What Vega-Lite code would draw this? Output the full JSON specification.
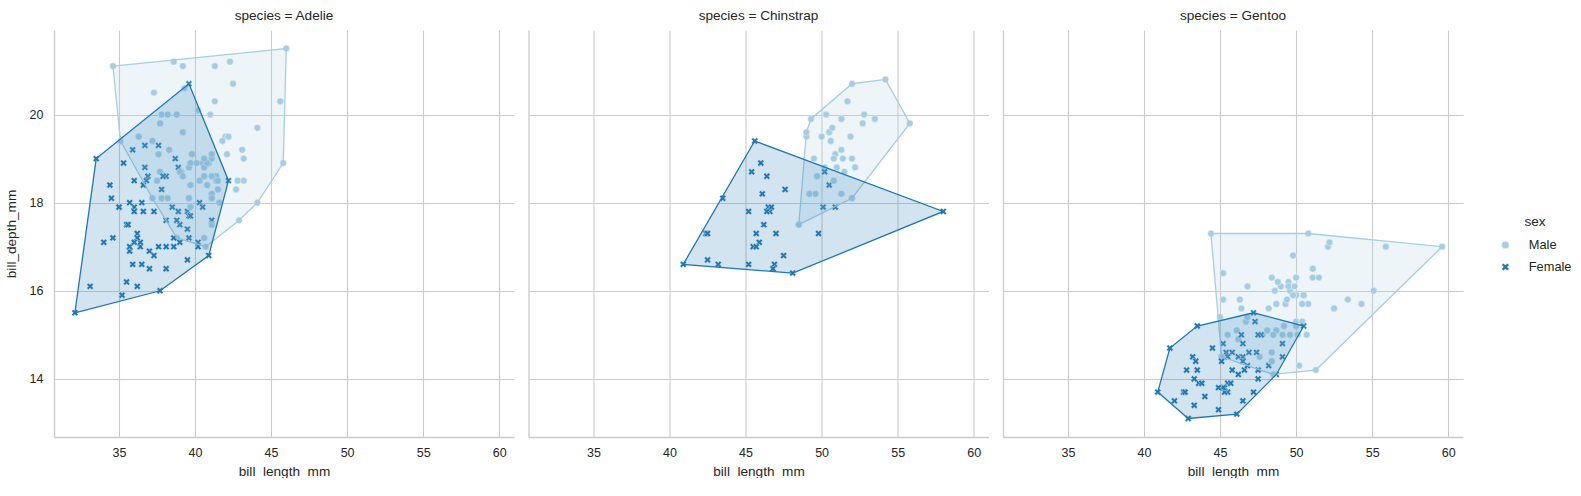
{
"$schema": "https://vega.github.io/schema/vega-lite/v6.json",
"padding": {"left": 4, "top": 9, "right": 0, "bottom": 0},
"background": "white",
"config": {
 "font": "Liberation Sans",
 "view": {"stroke": null},
 "axis": {"grid": true, "gridColor": "#cccccc", "gridWidth": 1.1, "domainColor": "#cccccc", "domainWidth": 1.4, "ticks": false, "labelFontSize": 12.5, "labelColor": "#262626", "titleFontSize": 13.6, "titleColor": "#262626", "titleFontWeight": "normal"},
 "axisX": {"labelPadding": 9, "titlePadding": 5.5},
 "axisY": {"labelPadding": 11, "titlePadding": 11},
 "title": {"fontSize": 13.6, "fontWeight": "normal", "color": "#262626", "offset": 7, "anchor": "middle"},
 "legend": {"orient": "none", "legendX": 1445, "legendY": 185, "titleFontSize": 13.6, "titleFontWeight": "normal", "titleColor": "#262626", "labelFontSize": 12.8, "labelColor": "#262626", "labelOffset": 17, "rowPadding": 8, "titlePadding": 10, "symbolSize": 60, "symbolStrokeColor": "white", "symbolStrokeWidth": 0.5, "titleAnchor": "middle"}
},
"datasets": {
"pts": [
{"species":"Adelie","sex":"Male","bill_length_mm":39.1,"bill_depth_mm":18.7},
{"species":"Adelie","sex":"Female","bill_length_mm":39.5,"bill_depth_mm":17.4},
{"species":"Adelie","sex":"Female","bill_length_mm":40.3,"bill_depth_mm":18.0},
{"species":"Adelie","sex":"Female","bill_length_mm":36.7,"bill_depth_mm":19.3},
{"species":"Adelie","sex":"Male","bill_length_mm":39.3,"bill_depth_mm":20.6},
{"species":"Adelie","sex":"Female","bill_length_mm":38.9,"bill_depth_mm":17.8},
{"species":"Adelie","sex":"Male","bill_length_mm":39.2,"bill_depth_mm":19.6},
{"species":"Adelie","sex":"Female","bill_length_mm":41.1,"bill_depth_mm":17.6},
{"species":"Adelie","sex":"Male","bill_length_mm":38.6,"bill_depth_mm":21.2},
{"species":"Adelie","sex":"Male","bill_length_mm":34.6,"bill_depth_mm":21.1},
{"species":"Adelie","sex":"Female","bill_length_mm":36.6,"bill_depth_mm":17.8},
{"species":"Adelie","sex":"Female","bill_length_mm":38.7,"bill_depth_mm":19.0},
{"species":"Adelie","sex":"Male","bill_length_mm":42.5,"bill_depth_mm":20.7},
{"species":"Adelie","sex":"Female","bill_length_mm":34.4,"bill_depth_mm":18.4},
{"species":"Adelie","sex":"Male","bill_length_mm":46.0,"bill_depth_mm":21.5},
{"species":"Adelie","sex":"Female","bill_length_mm":37.8,"bill_depth_mm":18.3},
{"species":"Adelie","sex":"Male","bill_length_mm":37.7,"bill_depth_mm":18.7},
{"species":"Adelie","sex":"Female","bill_length_mm":35.9,"bill_depth_mm":19.2},
{"species":"Adelie","sex":"Male","bill_length_mm":38.2,"bill_depth_mm":18.1},
{"species":"Adelie","sex":"Male","bill_length_mm":38.8,"bill_depth_mm":17.2},
{"species":"Adelie","sex":"Female","bill_length_mm":35.3,"bill_depth_mm":18.9},
{"species":"Adelie","sex":"Male","bill_length_mm":40.6,"bill_depth_mm":18.6},
{"species":"Adelie","sex":"Female","bill_length_mm":40.5,"bill_depth_mm":17.9},
{"species":"Adelie","sex":"Female","bill_length_mm":37.9,"bill_depth_mm":18.6},
{"species":"Adelie","sex":"Male","bill_length_mm":40.5,"bill_depth_mm":18.9},
{"species":"Adelie","sex":"Female","bill_length_mm":39.5,"bill_depth_mm":16.7},
{"species":"Adelie","sex":"Male","bill_length_mm":37.2,"bill_depth_mm":18.1},
{"species":"Adelie","sex":"Female","bill_length_mm":39.5,"bill_depth_mm":17.8},
{"species":"Adelie","sex":"Male","bill_length_mm":40.9,"bill_depth_mm":18.9},
{"species":"Adelie","sex":"Female","bill_length_mm":36.4,"bill_depth_mm":17.0},
{"species":"Adelie","sex":"Male","bill_length_mm":39.2,"bill_depth_mm":21.1},
{"species":"Adelie","sex":"Male","bill_length_mm":38.8,"bill_depth_mm":20.0},
{"species":"Adelie","sex":"Female","bill_length_mm":42.2,"bill_depth_mm":18.5},
{"species":"Adelie","sex":"Female","bill_length_mm":37.6,"bill_depth_mm":19.3},
{"species":"Adelie","sex":"Male","bill_length_mm":39.8,"bill_depth_mm":19.1},
{"species":"Adelie","sex":"Female","bill_length_mm":36.5,"bill_depth_mm":18.0},
{"species":"Adelie","sex":"Male","bill_length_mm":40.8,"bill_depth_mm":18.4},
{"species":"Adelie","sex":"Female","bill_length_mm":36.0,"bill_depth_mm":18.5},
{"species":"Adelie","sex":"Male","bill_length_mm":44.1,"bill_depth_mm":19.7},
{"species":"Adelie","sex":"Female","bill_length_mm":37.0,"bill_depth_mm":16.9},
{"species":"Adelie","sex":"Male","bill_length_mm":39.6,"bill_depth_mm":18.8},
{"species":"Adelie","sex":"Male","bill_length_mm":41.1,"bill_depth_mm":19.0},
{"species":"Adelie","sex":"Female","bill_length_mm":36.0,"bill_depth_mm":17.9},
{"species":"Adelie","sex":"Male","bill_length_mm":42.3,"bill_depth_mm":21.2},
{"species":"Adelie","sex":"Female","bill_length_mm":39.6,"bill_depth_mm":17.7},
{"species":"Adelie","sex":"Male","bill_length_mm":40.1,"bill_depth_mm":18.9},
{"species":"Adelie","sex":"Female","bill_length_mm":35.0,"bill_depth_mm":17.9},
{"species":"Adelie","sex":"Male","bill_length_mm":42.0,"bill_depth_mm":19.5},
{"species":"Adelie","sex":"Female","bill_length_mm":34.5,"bill_depth_mm":18.1},
{"species":"Adelie","sex":"Male","bill_length_mm":41.4,"bill_depth_mm":18.6},
{"species":"Adelie","sex":"Female","bill_length_mm":39.0,"bill_depth_mm":17.5},
{"species":"Adelie","sex":"Male","bill_length_mm":40.6,"bill_depth_mm":18.8},
{"species":"Adelie","sex":"Female","bill_length_mm":36.5,"bill_depth_mm":16.6},
{"species":"Adelie","sex":"Male","bill_length_mm":37.6,"bill_depth_mm":19.1},
{"species":"Adelie","sex":"Female","bill_length_mm":35.7,"bill_depth_mm":16.9},
{"species":"Adelie","sex":"Male","bill_length_mm":41.3,"bill_depth_mm":21.1},
{"species":"Adelie","sex":"Female","bill_length_mm":37.6,"bill_depth_mm":17.0},
{"species":"Adelie","sex":"Male","bill_length_mm":41.1,"bill_depth_mm":18.2},
{"species":"Adelie","sex":"Female","bill_length_mm":36.4,"bill_depth_mm":17.1},
{"species":"Adelie","sex":"Male","bill_length_mm":41.6,"bill_depth_mm":18.0},
{"species":"Adelie","sex":"Female","bill_length_mm":35.5,"bill_depth_mm":16.2},
{"species":"Adelie","sex":"Male","bill_length_mm":41.1,"bill_depth_mm":19.1},
{"species":"Adelie","sex":"Female","bill_length_mm":35.9,"bill_depth_mm":16.6},
{"species":"Adelie","sex":"Male","bill_length_mm":41.8,"bill_depth_mm":19.4},
{"species":"Adelie","sex":"Female","bill_length_mm":33.5,"bill_depth_mm":19.0},
{"species":"Adelie","sex":"Male","bill_length_mm":39.7,"bill_depth_mm":18.4},
{"species":"Adelie","sex":"Female","bill_length_mm":39.6,"bill_depth_mm":17.2},
{"species":"Adelie","sex":"Male","bill_length_mm":45.8,"bill_depth_mm":18.9},
{"species":"Adelie","sex":"Female","bill_length_mm":35.5,"bill_depth_mm":17.5},
{"species":"Adelie","sex":"Male","bill_length_mm":42.8,"bill_depth_mm":18.5},
{"species":"Adelie","sex":"Female","bill_length_mm":40.9,"bill_depth_mm":16.8},
{"species":"Adelie","sex":"Male","bill_length_mm":37.2,"bill_depth_mm":19.4},
{"species":"Adelie","sex":"Female","bill_length_mm":36.2,"bill_depth_mm":16.1},
{"species":"Adelie","sex":"Male","bill_length_mm":42.1,"bill_depth_mm":19.1},
{"species":"Adelie","sex":"Female","bill_length_mm":34.6,"bill_depth_mm":17.2},
{"species":"Adelie","sex":"Male","bill_length_mm":42.9,"bill_depth_mm":17.6},
{"species":"Adelie","sex":"Female","bill_length_mm":36.7,"bill_depth_mm":18.8},
{"species":"Adelie","sex":"Male","bill_length_mm":35.1,"bill_depth_mm":19.4},
{"species":"Adelie","sex":"Female","bill_length_mm":37.3,"bill_depth_mm":17.8},
{"species":"Adelie","sex":"Male","bill_length_mm":41.3,"bill_depth_mm":20.3},
{"species":"Adelie","sex":"Male","bill_length_mm":36.3,"bill_depth_mm":19.5},
{"species":"Adelie","sex":"Female","bill_length_mm":36.9,"bill_depth_mm":18.6},
{"species":"Adelie","sex":"Male","bill_length_mm":38.3,"bill_depth_mm":19.2},
{"species":"Adelie","sex":"Female","bill_length_mm":38.9,"bill_depth_mm":18.8},
{"species":"Adelie","sex":"Female","bill_length_mm":35.7,"bill_depth_mm":18.0},
{"species":"Adelie","sex":"Male","bill_length_mm":41.1,"bill_depth_mm":18.1},
{"species":"Adelie","sex":"Female","bill_length_mm":34.0,"bill_depth_mm":17.1},
{"species":"Adelie","sex":"Male","bill_length_mm":39.6,"bill_depth_mm":18.1},
{"species":"Adelie","sex":"Female","bill_length_mm":36.2,"bill_depth_mm":17.3},
{"species":"Adelie","sex":"Male","bill_length_mm":40.8,"bill_depth_mm":18.9},
{"species":"Adelie","sex":"Female","bill_length_mm":38.1,"bill_depth_mm":18.6},
{"species":"Adelie","sex":"Male","bill_length_mm":40.3,"bill_depth_mm":18.5},
{"species":"Adelie","sex":"Female","bill_length_mm":33.1,"bill_depth_mm":16.1},
{"species":"Adelie","sex":"Male","bill_length_mm":43.2,"bill_depth_mm":18.5},
{"species":"Adelie","sex":"Female","bill_length_mm":35.0,"bill_depth_mm":17.9},
{"species":"Adelie","sex":"Male","bill_length_mm":41.0,"bill_depth_mm":20.0},
{"species":"Adelie","sex":"Female","bill_length_mm":37.7,"bill_depth_mm":16.0},
{"species":"Adelie","sex":"Male","bill_length_mm":37.8,"bill_depth_mm":20.0},
{"species":"Adelie","sex":"Female","bill_length_mm":37.9,"bill_depth_mm":18.6},
{"species":"Adelie","sex":"Male","bill_length_mm":39.7,"bill_depth_mm":18.9},
{"species":"Adelie","sex":"Female","bill_length_mm":38.6,"bill_depth_mm":17.2},
{"species":"Adelie","sex":"Male","bill_length_mm":38.2,"bill_depth_mm":20.0},
{"species":"Adelie","sex":"Female","bill_length_mm":38.1,"bill_depth_mm":17.0},
{"species":"Adelie","sex":"Male","bill_length_mm":43.2,"bill_depth_mm":19.0},
{"species":"Adelie","sex":"Female","bill_length_mm":38.1,"bill_depth_mm":16.5},
{"species":"Adelie","sex":"Male","bill_length_mm":45.6,"bill_depth_mm":20.3},
{"species":"Adelie","sex":"Female","bill_length_mm":39.7,"bill_depth_mm":17.7},
{"species":"Adelie","sex":"Male","bill_length_mm":42.2,"bill_depth_mm":19.5},
{"species":"Adelie","sex":"Female","bill_length_mm":39.6,"bill_depth_mm":20.7},
{"species":"Adelie","sex":"Male","bill_length_mm":42.7,"bill_depth_mm":18.3},
{"species":"Adelie","sex":"Female","bill_length_mm":38.6,"bill_depth_mm":17.0},
{"species":"Adelie","sex":"Male","bill_length_mm":37.3,"bill_depth_mm":20.5},
{"species":"Adelie","sex":"Female","bill_length_mm":35.7,"bill_depth_mm":17.0},
{"species":"Adelie","sex":"Male","bill_length_mm":41.1,"bill_depth_mm":18.6},
{"species":"Adelie","sex":"Female","bill_length_mm":36.2,"bill_depth_mm":17.2},
{"species":"Adelie","sex":"Male","bill_length_mm":37.7,"bill_depth_mm":19.8},
{"species":"Adelie","sex":"Female","bill_length_mm":40.2,"bill_depth_mm":17.0},
{"species":"Adelie","sex":"Male","bill_length_mm":41.4,"bill_depth_mm":18.5},
{"species":"Adelie","sex":"Female","bill_length_mm":35.2,"bill_depth_mm":15.9},
{"species":"Adelie","sex":"Male","bill_length_mm":40.6,"bill_depth_mm":19.0},
{"species":"Adelie","sex":"Female","bill_length_mm":38.8,"bill_depth_mm":17.6},
{"species":"Adelie","sex":"Male","bill_length_mm":41.5,"bill_depth_mm":18.3},
{"species":"Adelie","sex":"Female","bill_length_mm":39.0,"bill_depth_mm":17.1},
{"species":"Adelie","sex":"Male","bill_length_mm":44.1,"bill_depth_mm":18.0},
{"species":"Adelie","sex":"Female","bill_length_mm":38.5,"bill_depth_mm":17.9},
{"species":"Adelie","sex":"Male","bill_length_mm":43.1,"bill_depth_mm":19.2},
{"species":"Adelie","sex":"Female","bill_length_mm":36.8,"bill_depth_mm":18.5},
{"species":"Adelie","sex":"Male","bill_length_mm":37.5,"bill_depth_mm":18.5},
{"species":"Adelie","sex":"Female","bill_length_mm":38.1,"bill_depth_mm":17.6},
{"species":"Adelie","sex":"Male","bill_length_mm":41.1,"bill_depth_mm":17.5},
{"species":"Adelie","sex":"Female","bill_length_mm":35.6,"bill_depth_mm":17.5},
{"species":"Adelie","sex":"Male","bill_length_mm":40.2,"bill_depth_mm":20.1},
{"species":"Adelie","sex":"Female","bill_length_mm":37.0,"bill_depth_mm":16.5},
{"species":"Adelie","sex":"Male","bill_length_mm":39.7,"bill_depth_mm":17.9},
{"species":"Adelie","sex":"Female","bill_length_mm":40.2,"bill_depth_mm":17.1},
{"species":"Adelie","sex":"Male","bill_length_mm":40.6,"bill_depth_mm":17.2},
{"species":"Adelie","sex":"Female","bill_length_mm":32.1,"bill_depth_mm":15.5},
{"species":"Adelie","sex":"Male","bill_length_mm":40.7,"bill_depth_mm":17.0},
{"species":"Adelie","sex":"Female","bill_length_mm":37.3,"bill_depth_mm":16.8},
{"species":"Adelie","sex":"Male","bill_length_mm":39.0,"bill_depth_mm":18.7},
{"species":"Adelie","sex":"Male","bill_length_mm":39.2,"bill_depth_mm":18.6},
{"species":"Adelie","sex":"Female","bill_length_mm":36.6,"bill_depth_mm":18.4},
{"species":"Adelie","sex":"Female","bill_length_mm":36.0,"bill_depth_mm":17.8},
{"species":"Adelie","sex":"Male","bill_length_mm":37.8,"bill_depth_mm":18.1},
{"species":"Adelie","sex":"Female","bill_length_mm":36.0,"bill_depth_mm":17.1},
{"species":"Adelie","sex":"Male","bill_length_mm":41.5,"bill_depth_mm":18.5},
{"species":"Chinstrap","sex":"Female","bill_length_mm":46.5,"bill_depth_mm":17.9},
{"species":"Chinstrap","sex":"Male","bill_length_mm":50.0,"bill_depth_mm":19.5},
{"species":"Chinstrap","sex":"Male","bill_length_mm":51.3,"bill_depth_mm":19.2},
{"species":"Chinstrap","sex":"Female","bill_length_mm":45.4,"bill_depth_mm":18.7},
{"species":"Chinstrap","sex":"Male","bill_length_mm":52.7,"bill_depth_mm":19.8},
{"species":"Chinstrap","sex":"Female","bill_length_mm":45.2,"bill_depth_mm":17.8},
{"species":"Chinstrap","sex":"Female","bill_length_mm":46.1,"bill_depth_mm":18.2},
{"species":"Chinstrap","sex":"Male","bill_length_mm":51.3,"bill_depth_mm":18.2},
{"species":"Chinstrap","sex":"Female","bill_length_mm":46.0,"bill_depth_mm":18.9},
{"species":"Chinstrap","sex":"Male","bill_length_mm":51.3,"bill_depth_mm":19.9},
{"species":"Chinstrap","sex":"Female","bill_length_mm":46.6,"bill_depth_mm":17.8},
{"species":"Chinstrap","sex":"Male","bill_length_mm":51.7,"bill_depth_mm":20.3},
{"species":"Chinstrap","sex":"Female","bill_length_mm":47.0,"bill_depth_mm":17.3},
{"species":"Chinstrap","sex":"Male","bill_length_mm":52.0,"bill_depth_mm":18.1},
{"species":"Chinstrap","sex":"Female","bill_length_mm":45.9,"bill_depth_mm":17.1},
{"species":"Chinstrap","sex":"Male","bill_length_mm":50.5,"bill_depth_mm":19.6},
{"species":"Chinstrap","sex":"Male","bill_length_mm":50.3,"bill_depth_mm":20.0},
{"species":"Chinstrap","sex":"Female","bill_length_mm":58.0,"bill_depth_mm":17.8},
{"species":"Chinstrap","sex":"Female","bill_length_mm":46.4,"bill_depth_mm":18.6},
{"species":"Chinstrap","sex":"Male","bill_length_mm":49.2,"bill_depth_mm":18.2},
{"species":"Chinstrap","sex":"Female","bill_length_mm":42.4,"bill_depth_mm":17.3},
{"species":"Chinstrap","sex":"Male","bill_length_mm":48.5,"bill_depth_mm":17.5},
{"species":"Chinstrap","sex":"Female","bill_length_mm":43.2,"bill_depth_mm":16.6},
{"species":"Chinstrap","sex":"Male","bill_length_mm":50.6,"bill_depth_mm":19.4},
{"species":"Chinstrap","sex":"Female","bill_length_mm":46.7,"bill_depth_mm":17.9},
{"species":"Chinstrap","sex":"Male","bill_length_mm":52.0,"bill_depth_mm":19.0},
{"species":"Chinstrap","sex":"Female","bill_length_mm":50.5,"bill_depth_mm":18.4},
{"species":"Chinstrap","sex":"Male","bill_length_mm":49.5,"bill_depth_mm":19.0},
{"species":"Chinstrap","sex":"Female","bill_length_mm":46.4,"bill_depth_mm":17.8},
{"species":"Chinstrap","sex":"Male","bill_length_mm":52.8,"bill_depth_mm":20.0},
{"species":"Chinstrap","sex":"Female","bill_length_mm":40.9,"bill_depth_mm":16.6},
{"species":"Chinstrap","sex":"Male","bill_length_mm":54.2,"bill_depth_mm":20.8},
{"species":"Chinstrap","sex":"Female","bill_length_mm":42.5,"bill_depth_mm":16.7},
{"species":"Chinstrap","sex":"Male","bill_length_mm":51.0,"bill_depth_mm":18.8},
{"species":"Chinstrap","sex":"Male","bill_length_mm":49.7,"bill_depth_mm":18.6},
{"species":"Chinstrap","sex":"Female","bill_length_mm":47.5,"bill_depth_mm":16.8},
{"species":"Chinstrap","sex":"Female","bill_length_mm":47.6,"bill_depth_mm":18.3},
{"species":"Chinstrap","sex":"Male","bill_length_mm":52.0,"bill_depth_mm":20.7},
{"species":"Chinstrap","sex":"Female","bill_length_mm":46.9,"bill_depth_mm":16.6},
{"species":"Chinstrap","sex":"Male","bill_length_mm":53.5,"bill_depth_mm":19.9},
{"species":"Chinstrap","sex":"Male","bill_length_mm":49.0,"bill_depth_mm":19.5},
{"species":"Chinstrap","sex":"Female","bill_length_mm":46.2,"bill_depth_mm":17.5},
{"species":"Chinstrap","sex":"Male","bill_length_mm":50.9,"bill_depth_mm":19.1},
{"species":"Chinstrap","sex":"Female","bill_length_mm":45.5,"bill_depth_mm":17.0},
{"species":"Chinstrap","sex":"Female","bill_length_mm":50.9,"bill_depth_mm":17.9},
{"species":"Chinstrap","sex":"Male","bill_length_mm":50.8,"bill_depth_mm":18.5},
{"species":"Chinstrap","sex":"Female","bill_length_mm":50.1,"bill_depth_mm":17.9},
{"species":"Chinstrap","sex":"Male","bill_length_mm":49.0,"bill_depth_mm":19.6},
{"species":"Chinstrap","sex":"Male","bill_length_mm":51.5,"bill_depth_mm":18.7},
{"species":"Chinstrap","sex":"Female","bill_length_mm":49.8,"bill_depth_mm":17.3},
{"species":"Chinstrap","sex":"Female","bill_length_mm":48.1,"bill_depth_mm":16.4},
{"species":"Chinstrap","sex":"Male","bill_length_mm":51.4,"bill_depth_mm":19.0},
{"species":"Chinstrap","sex":"Female","bill_length_mm":45.7,"bill_depth_mm":17.3},
{"species":"Chinstrap","sex":"Male","bill_length_mm":50.7,"bill_depth_mm":19.7},
{"species":"Chinstrap","sex":"Female","bill_length_mm":42.5,"bill_depth_mm":17.3},
{"species":"Chinstrap","sex":"Male","bill_length_mm":52.2,"bill_depth_mm":18.8},
{"species":"Chinstrap","sex":"Female","bill_length_mm":45.2,"bill_depth_mm":16.6},
{"species":"Chinstrap","sex":"Male","bill_length_mm":49.3,"bill_depth_mm":19.9},
{"species":"Chinstrap","sex":"Male","bill_length_mm":50.2,"bill_depth_mm":18.8},
{"species":"Chinstrap","sex":"Female","bill_length_mm":45.6,"bill_depth_mm":19.4},
{"species":"Chinstrap","sex":"Male","bill_length_mm":51.9,"bill_depth_mm":19.5},
{"species":"Chinstrap","sex":"Female","bill_length_mm":46.8,"bill_depth_mm":16.5},
{"species":"Chinstrap","sex":"Female","bill_length_mm":45.7,"bill_depth_mm":17.0},
{"species":"Chinstrap","sex":"Male","bill_length_mm":55.8,"bill_depth_mm":19.8},
{"species":"Chinstrap","sex":"Female","bill_length_mm":43.5,"bill_depth_mm":18.1},
{"species":"Chinstrap","sex":"Male","bill_length_mm":49.6,"bill_depth_mm":18.2},
{"species":"Chinstrap","sex":"Male","bill_length_mm":50.8,"bill_depth_mm":19.0},
{"species":"Chinstrap","sex":"Female","bill_length_mm":50.2,"bill_depth_mm":18.7},
{"species":"Gentoo","sex":"Female","bill_length_mm":46.1,"bill_depth_mm":13.2},
{"species":"Gentoo","sex":"Male","bill_length_mm":50.0,"bill_depth_mm":16.3},
{"species":"Gentoo","sex":"Female","bill_length_mm":48.7,"bill_depth_mm":14.1},
{"species":"Gentoo","sex":"Male","bill_length_mm":50.0,"bill_depth_mm":15.2},
{"species":"Gentoo","sex":"Male","bill_length_mm":47.6,"bill_depth_mm":14.5},
{"species":"Gentoo","sex":"Female","bill_length_mm":46.5,"bill_depth_mm":13.5},
{"species":"Gentoo","sex":"Female","bill_length_mm":45.4,"bill_depth_mm":14.6},
{"species":"Gentoo","sex":"Male","bill_length_mm":46.7,"bill_depth_mm":15.3},
{"species":"Gentoo","sex":"Female","bill_length_mm":43.3,"bill_depth_mm":13.4},
{"species":"Gentoo","sex":"Male","bill_length_mm":46.8,"bill_depth_mm":15.4},
{"species":"Gentoo","sex":"Female","bill_length_mm":40.9,"bill_depth_mm":13.7},
{"species":"Gentoo","sex":"Male","bill_length_mm":49.0,"bill_depth_mm":16.1},
{"species":"Gentoo","sex":"Female","bill_length_mm":45.5,"bill_depth_mm":13.7},
{"species":"Gentoo","sex":"Male","bill_length_mm":48.4,"bill_depth_mm":14.6},
{"species":"Gentoo","sex":"Female","bill_length_mm":45.8,"bill_depth_mm":14.6},
{"species":"Gentoo","sex":"Male","bill_length_mm":49.3,"bill_depth_mm":15.7},
{"species":"Gentoo","sex":"Female","bill_length_mm":42.0,"bill_depth_mm":13.5},
{"species":"Gentoo","sex":"Male","bill_length_mm":49.2,"bill_depth_mm":15.2},
{"species":"Gentoo","sex":"Female","bill_length_mm":46.2,"bill_depth_mm":14.5},
{"species":"Gentoo","sex":"Male","bill_length_mm":48.7,"bill_depth_mm":15.1},
{"species":"Gentoo","sex":"Male","bill_length_mm":50.2,"bill_depth_mm":14.3},
{"species":"Gentoo","sex":"Female","bill_length_mm":45.1,"bill_depth_mm":14.5},
{"species":"Gentoo","sex":"Female","bill_length_mm":46.5,"bill_depth_mm":14.5},
{"species":"Gentoo","sex":"Male","bill_length_mm":46.3,"bill_depth_mm":15.8},
{"species":"Gentoo","sex":"Female","bill_length_mm":42.9,"bill_depth_mm":13.1},
{"species":"Gentoo","sex":"Male","bill_length_mm":46.1,"bill_depth_mm":15.1},
{"species":"Gentoo","sex":"Male","bill_length_mm":47.8,"bill_depth_mm":15.0},
{"species":"Gentoo","sex":"Female","bill_length_mm":48.2,"bill_depth_mm":14.3},
{"species":"Gentoo","sex":"Male","bill_length_mm":50.0,"bill_depth_mm":15.3},
{"species":"Gentoo","sex":"Female","bill_length_mm":47.3,"bill_depth_mm":15.3},
{"species":"Gentoo","sex":"Female","bill_length_mm":42.8,"bill_depth_mm":14.2},
{"species":"Gentoo","sex":"Male","bill_length_mm":45.1,"bill_depth_mm":14.5},
{"species":"Gentoo","sex":"Male","bill_length_mm":59.6,"bill_depth_mm":17.0},
{"species":"Gentoo","sex":"Female","bill_length_mm":49.1,"bill_depth_mm":14.8},
{"species":"Gentoo","sex":"Male","bill_length_mm":48.4,"bill_depth_mm":16.3},
{"species":"Gentoo","sex":"Female","bill_length_mm":42.6,"bill_depth_mm":13.7},
{"species":"Gentoo","sex":"Male","bill_length_mm":44.4,"bill_depth_mm":17.3},
{"species":"Gentoo","sex":"Female","bill_length_mm":44.0,"bill_depth_mm":13.6},
{"species":"Gentoo","sex":"Male","bill_length_mm":48.7,"bill_depth_mm":15.7},
{"species":"Gentoo","sex":"Female","bill_length_mm":42.7,"bill_depth_mm":13.7},
{"species":"Gentoo","sex":"Male","bill_length_mm":49.6,"bill_depth_mm":16.0},
{"species":"Gentoo","sex":"Female","bill_length_mm":45.3,"bill_depth_mm":13.7},
{"species":"Gentoo","sex":"Male","bill_length_mm":49.6,"bill_depth_mm":15.0},
{"species":"Gentoo","sex":"Male","bill_length_mm":50.5,"bill_depth_mm":15.9},
{"species":"Gentoo","sex":"Female","bill_length_mm":43.6,"bill_depth_mm":13.9},
{"species":"Gentoo","sex":"Female","bill_length_mm":45.5,"bill_depth_mm":13.9},
{"species":"Gentoo","sex":"Male","bill_length_mm":50.5,"bill_depth_mm":15.9},
{"species":"Gentoo","sex":"Female","bill_length_mm":44.9,"bill_depth_mm":13.3},
{"species":"Gentoo","sex":"Male","bill_length_mm":45.2,"bill_depth_mm":15.8},
{"species":"Gentoo","sex":"Female","bill_length_mm":46.6,"bill_depth_mm":14.2},
{"species":"Gentoo","sex":"Male","bill_length_mm":48.5,"bill_depth_mm":14.1},
{"species":"Gentoo","sex":"Female","bill_length_mm":45.1,"bill_depth_mm":14.4},
{"species":"Gentoo","sex":"Male","bill_length_mm":50.1,"bill_depth_mm":15.0},
{"species":"Gentoo","sex":"Female","bill_length_mm":46.5,"bill_depth_mm":14.4},
{"species":"Gentoo","sex":"Male","bill_length_mm":45.0,"bill_depth_mm":15.4},
{"species":"Gentoo","sex":"Female","bill_length_mm":43.8,"bill_depth_mm":13.9},
{"species":"Gentoo","sex":"Male","bill_length_mm":45.5,"bill_depth_mm":15.0},
{"species":"Gentoo","sex":"Female","bill_length_mm":43.2,"bill_depth_mm":14.5},
{"species":"Gentoo","sex":"Male","bill_length_mm":50.4,"bill_depth_mm":15.3},
{"species":"Gentoo","sex":"Female","bill_length_mm":45.3,"bill_depth_mm":13.8},
{"species":"Gentoo","sex":"Male","bill_length_mm":46.2,"bill_depth_mm":14.9},
{"species":"Gentoo","sex":"Female","bill_length_mm":45.7,"bill_depth_mm":13.9},
{"species":"Gentoo","sex":"Male","bill_length_mm":54.3,"bill_depth_mm":15.7},
{"species":"Gentoo","sex":"Female","bill_length_mm":45.8,"bill_depth_mm":14.2},
{"species":"Gentoo","sex":"Male","bill_length_mm":49.8,"bill_depth_mm":16.8},
{"species":"Gentoo","sex":"Male","bill_length_mm":49.5,"bill_depth_mm":16.2},
{"species":"Gentoo","sex":"Female","bill_length_mm":43.5,"bill_depth_mm":14.2},
{"species":"Gentoo","sex":"Male","bill_length_mm":50.7,"bill_depth_mm":15.0},
{"species":"Gentoo","sex":"Female","bill_length_mm":47.7,"bill_depth_mm":15.0},
{"species":"Gentoo","sex":"Male","bill_length_mm":46.4,"bill_depth_mm":15.6},
{"species":"Gentoo","sex":"Male","bill_length_mm":48.2,"bill_depth_mm":15.6},
{"species":"Gentoo","sex":"Female","bill_length_mm":46.5,"bill_depth_mm":14.8},
{"species":"Gentoo","sex":"Female","bill_length_mm":46.4,"bill_depth_mm":15.0},
{"species":"Gentoo","sex":"Male","bill_length_mm":48.6,"bill_depth_mm":16.0},
{"species":"Gentoo","sex":"Female","bill_length_mm":47.5,"bill_depth_mm":14.2},
{"species":"Gentoo","sex":"Male","bill_length_mm":51.1,"bill_depth_mm":16.3},
{"species":"Gentoo","sex":"Female","bill_length_mm":45.2,"bill_depth_mm":13.8},
{"species":"Gentoo","sex":"Male","bill_length_mm":45.2,"bill_depth_mm":16.4},
{"species":"Gentoo","sex":"Female","bill_length_mm":49.1,"bill_depth_mm":14.5},
{"species":"Gentoo","sex":"Male","bill_length_mm":52.5,"bill_depth_mm":15.6},
{"species":"Gentoo","sex":"Female","bill_length_mm":47.4,"bill_depth_mm":14.6},
{"species":"Gentoo","sex":"Male","bill_length_mm":50.0,"bill_depth_mm":15.9},
{"species":"Gentoo","sex":"Female","bill_length_mm":44.9,"bill_depth_mm":13.8},
{"species":"Gentoo","sex":"Male","bill_length_mm":50.8,"bill_depth_mm":17.3},
{"species":"Gentoo","sex":"Female","bill_length_mm":43.4,"bill_depth_mm":14.4},
{"species":"Gentoo","sex":"Male","bill_length_mm":51.3,"bill_depth_mm":14.2},
{"species":"Gentoo","sex":"Female","bill_length_mm":47.5,"bill_depth_mm":14.0},
{"species":"Gentoo","sex":"Male","bill_length_mm":52.1,"bill_depth_mm":17.0},
{"species":"Gentoo","sex":"Female","bill_length_mm":47.5,"bill_depth_mm":15.0},
{"species":"Gentoo","sex":"Male","bill_length_mm":52.2,"bill_depth_mm":17.1},
{"species":"Gentoo","sex":"Female","bill_length_mm":45.5,"bill_depth_mm":14.5},
{"species":"Gentoo","sex":"Male","bill_length_mm":49.5,"bill_depth_mm":16.1},
{"species":"Gentoo","sex":"Female","bill_length_mm":44.5,"bill_depth_mm":14.7},
{"species":"Gentoo","sex":"Male","bill_length_mm":50.8,"bill_depth_mm":15.7},
{"species":"Gentoo","sex":"Male","bill_length_mm":49.4,"bill_depth_mm":15.8},
{"species":"Gentoo","sex":"Female","bill_length_mm":46.9,"bill_depth_mm":14.6},
{"species":"Gentoo","sex":"Male","bill_length_mm":48.4,"bill_depth_mm":14.4},
{"species":"Gentoo","sex":"Male","bill_length_mm":51.1,"bill_depth_mm":16.5},
{"species":"Gentoo","sex":"Male","bill_length_mm":48.5,"bill_depth_mm":15.0},
{"species":"Gentoo","sex":"Male","bill_length_mm":55.9,"bill_depth_mm":17.0},
{"species":"Gentoo","sex":"Female","bill_length_mm":47.2,"bill_depth_mm":15.5},
{"species":"Gentoo","sex":"Male","bill_length_mm":49.1,"bill_depth_mm":15.0},
{"species":"Gentoo","sex":"Male","bill_length_mm":46.8,"bill_depth_mm":16.1},
{"species":"Gentoo","sex":"Female","bill_length_mm":41.7,"bill_depth_mm":14.7},
{"species":"Gentoo","sex":"Male","bill_length_mm":53.4,"bill_depth_mm":15.8},
{"species":"Gentoo","sex":"Female","bill_length_mm":43.3,"bill_depth_mm":14.0},
{"species":"Gentoo","sex":"Male","bill_length_mm":48.1,"bill_depth_mm":15.1},
{"species":"Gentoo","sex":"Female","bill_length_mm":50.5,"bill_depth_mm":15.2},
{"species":"Gentoo","sex":"Male","bill_length_mm":49.8,"bill_depth_mm":15.9},
{"species":"Gentoo","sex":"Female","bill_length_mm":43.5,"bill_depth_mm":15.2},
{"species":"Gentoo","sex":"Male","bill_length_mm":51.5,"bill_depth_mm":16.3},
{"species":"Gentoo","sex":"Female","bill_length_mm":46.2,"bill_depth_mm":14.1},
{"species":"Gentoo","sex":"Male","bill_length_mm":55.1,"bill_depth_mm":16.0},
{"species":"Gentoo","sex":"Male","bill_length_mm":48.8,"bill_depth_mm":16.2},
{"species":"Gentoo","sex":"Female","bill_length_mm":47.2,"bill_depth_mm":13.7},
{"species":"Gentoo","sex":"Female","bill_length_mm":46.8,"bill_depth_mm":14.3},
{"species":"Gentoo","sex":"Male","bill_length_mm":50.4,"bill_depth_mm":15.7},
{"species":"Gentoo","sex":"Female","bill_length_mm":45.2,"bill_depth_mm":14.8},
{"species":"Gentoo","sex":"Male","bill_length_mm":49.9,"bill_depth_mm":16.1}
],
"hull": [
{"species":"Adelie","sex":"Male","i":0,"bill_length_mm":34.6,"bill_depth_mm":21.1},
{"species":"Adelie","sex":"Male","i":1,"bill_length_mm":46.0,"bill_depth_mm":21.5},
{"species":"Adelie","sex":"Male","i":2,"bill_length_mm":45.8,"bill_depth_mm":18.9},
{"species":"Adelie","sex":"Male","i":3,"bill_length_mm":44.1,"bill_depth_mm":18.0},
{"species":"Adelie","sex":"Male","i":4,"bill_length_mm":42.9,"bill_depth_mm":17.6},
{"species":"Adelie","sex":"Male","i":5,"bill_length_mm":40.7,"bill_depth_mm":17.0},
{"species":"Adelie","sex":"Male","i":6,"bill_length_mm":38.8,"bill_depth_mm":17.2},
{"species":"Adelie","sex":"Male","i":7,"bill_length_mm":37.2,"bill_depth_mm":18.1},
{"species":"Adelie","sex":"Male","i":8,"bill_length_mm":35.1,"bill_depth_mm":19.4},
{"species":"Adelie","sex":"Female","i":0,"bill_length_mm":32.1,"bill_depth_mm":15.5},
{"species":"Adelie","sex":"Female","i":1,"bill_length_mm":33.5,"bill_depth_mm":19.0},
{"species":"Adelie","sex":"Female","i":2,"bill_length_mm":39.6,"bill_depth_mm":20.7},
{"species":"Adelie","sex":"Female","i":3,"bill_length_mm":42.2,"bill_depth_mm":18.5},
{"species":"Adelie","sex":"Female","i":4,"bill_length_mm":40.9,"bill_depth_mm":16.8},
{"species":"Adelie","sex":"Female","i":5,"bill_length_mm":37.7,"bill_depth_mm":16.0},
{"species":"Chinstrap","sex":"Male","i":0,"bill_length_mm":48.5,"bill_depth_mm":17.5},
{"species":"Chinstrap","sex":"Male","i":1,"bill_length_mm":49.0,"bill_depth_mm":19.6},
{"species":"Chinstrap","sex":"Male","i":2,"bill_length_mm":49.3,"bill_depth_mm":19.9},
{"species":"Chinstrap","sex":"Male","i":3,"bill_length_mm":52.0,"bill_depth_mm":20.7},
{"species":"Chinstrap","sex":"Male","i":4,"bill_length_mm":54.2,"bill_depth_mm":20.8},
{"species":"Chinstrap","sex":"Male","i":5,"bill_length_mm":55.8,"bill_depth_mm":19.8},
{"species":"Chinstrap","sex":"Male","i":6,"bill_length_mm":52.0,"bill_depth_mm":18.1},
{"species":"Chinstrap","sex":"Female","i":0,"bill_length_mm":40.9,"bill_depth_mm":16.6},
{"species":"Chinstrap","sex":"Female","i":1,"bill_length_mm":45.6,"bill_depth_mm":19.4},
{"species":"Chinstrap","sex":"Female","i":2,"bill_length_mm":58.0,"bill_depth_mm":17.8},
{"species":"Chinstrap","sex":"Female","i":3,"bill_length_mm":48.1,"bill_depth_mm":16.4},
{"species":"Gentoo","sex":"Male","i":0,"bill_length_mm":44.4,"bill_depth_mm":17.3},
{"species":"Gentoo","sex":"Male","i":1,"bill_length_mm":50.8,"bill_depth_mm":17.3},
{"species":"Gentoo","sex":"Male","i":2,"bill_length_mm":59.6,"bill_depth_mm":17.0},
{"species":"Gentoo","sex":"Male","i":3,"bill_length_mm":51.3,"bill_depth_mm":14.2},
{"species":"Gentoo","sex":"Male","i":4,"bill_length_mm":48.5,"bill_depth_mm":14.1},
{"species":"Gentoo","sex":"Male","i":5,"bill_length_mm":45.1,"bill_depth_mm":14.5},
{"species":"Gentoo","sex":"Female","i":0,"bill_length_mm":40.9,"bill_depth_mm":13.7},
{"species":"Gentoo","sex":"Female","i":1,"bill_length_mm":41.7,"bill_depth_mm":14.7},
{"species":"Gentoo","sex":"Female","i":2,"bill_length_mm":43.5,"bill_depth_mm":15.2},
{"species":"Gentoo","sex":"Female","i":3,"bill_length_mm":47.2,"bill_depth_mm":15.5},
{"species":"Gentoo","sex":"Female","i":4,"bill_length_mm":50.5,"bill_depth_mm":15.2},
{"species":"Gentoo","sex":"Female","i":5,"bill_length_mm":48.7,"bill_depth_mm":14.1},
{"species":"Gentoo","sex":"Female","i":6,"bill_length_mm":46.1,"bill_depth_mm":13.2},
{"species":"Gentoo","sex":"Female","i":7,"bill_length_mm":42.9,"bill_depth_mm":13.1}
]
},
"spacing": 14.5,
"hconcat": [
{
 "width": 460, "height": 407,
 "title": {"text": "species = Adelie"},
 "encoding": {
  "x": {"field": "bill_length_mm", "type": "quantitative", "scale": {"domain": [30.725, 60.975], "nice": false, "zero": false}, "axis": {"values": [35,40,45,50,55,60], "title": "bill_length_mm"}},
  "y": {"field": "bill_depth_mm", "type": "quantitative", "scale": {"domain": [12.68, 21.92], "nice": false, "zero": false}, "axis": {"values": [14,16,18,20], "title": "bill_depth_mm"}}
 },
 "layer": [
  {"data": {"name": "pts"}, "transform": [{"filter": {"field": "species", "equal": "Adelie"}}],
   "mark": {"type": "point", "filled": true, "opacity": 1, "size": 46, "stroke": "white", "strokeWidth": 0.5},
   "encoding": {
    "color": {"field": "sex", "type": "nominal", "scale": {"domain": ["Male","Female"], "range": ["#a6cee3","#1f78b4"]}, "legend": {"title": "sex"}},
    "shape": {"field": "sex", "type": "nominal", "scale": {"domain": ["Male","Female"], "range": ["circle","M-0.5,-1L0,-0.5L0.5,-1L1,-0.5L0.5,0L1,0.5L0.5,1L0,0.5L-0.5,1L-1,0.5L-0.5,0L-1,-0.5Z"]}, "legend": {"title": "sex"}}
   }},
  {"data": {"name": "hull"}, "transform": [{"filter": "datum.species === 'Adelie' && datum.sex === 'Male'"}],
   "mark": {"type": "line", "interpolate": "linear-closed", "stroke": "#a6cee3", "fill": "#a6cee3", "fillOpacity": 0.2, "strokeWidth": 1.3},
   "encoding": {"order": {"field": "i", "type": "quantitative"}}},
  {"data": {"name": "hull"}, "transform": [{"filter": "datum.species === 'Adelie' && datum.sex === 'Female'"}],
   "mark": {"type": "line", "interpolate": "linear-closed", "stroke": "#1f78b4", "fill": "#1f78b4", "fillOpacity": 0.2, "strokeWidth": 1.3},
   "encoding": {"order": {"field": "i", "type": "quantitative"}}}
 ]
},
{
 "width": 460, "height": 407,
 "title": {"text": "species = Chinstrap"},
 "encoding": {
  "x": {"field": "bill_length_mm", "type": "quantitative", "scale": {"domain": [30.725, 60.975], "nice": false, "zero": false}, "axis": {"values": [35,40,45,50,55,60], "title": "bill_length_mm"}},
  "y": {"field": "bill_depth_mm", "type": "quantitative", "scale": {"domain": [12.68, 21.92], "nice": false, "zero": false}, "axis": {"values": [14,16,18,20], "labels": false, "title": null}}
 },
 "layer": [
  {"data": {"name": "pts"}, "transform": [{"filter": {"field": "species", "equal": "Chinstrap"}}],
   "mark": {"type": "point", "filled": true, "opacity": 1, "size": 46, "stroke": "white", "strokeWidth": 0.5},
   "encoding": {
    "color": {"field": "sex", "type": "nominal", "scale": {"domain": ["Male","Female"], "range": ["#a6cee3","#1f78b4"]}, "legend": {"title": "sex"}},
    "shape": {"field": "sex", "type": "nominal", "scale": {"domain": ["Male","Female"], "range": ["circle","M-0.5,-1L0,-0.5L0.5,-1L1,-0.5L0.5,0L1,0.5L0.5,1L0,0.5L-0.5,1L-1,0.5L-0.5,0L-1,-0.5Z"]}, "legend": {"title": "sex"}}
   }},
  {"data": {"name": "hull"}, "transform": [{"filter": "datum.species === 'Chinstrap' && datum.sex === 'Male'"}],
   "mark": {"type": "line", "interpolate": "linear-closed", "stroke": "#a6cee3", "fill": "#a6cee3", "fillOpacity": 0.2, "strokeWidth": 1.3},
   "encoding": {"order": {"field": "i", "type": "quantitative"}}},
  {"data": {"name": "hull"}, "transform": [{"filter": "datum.species === 'Chinstrap' && datum.sex === 'Female'"}],
   "mark": {"type": "line", "interpolate": "linear-closed", "stroke": "#1f78b4", "fill": "#1f78b4", "fillOpacity": 0.2, "strokeWidth": 1.3},
   "encoding": {"order": {"field": "i", "type": "quantitative"}}}
 ]
},
{
 "width": 460, "height": 407,
 "title": {"text": "species = Gentoo"},
 "encoding": {
  "x": {"field": "bill_length_mm", "type": "quantitative", "scale": {"domain": [30.725, 60.975], "nice": false, "zero": false}, "axis": {"values": [35,40,45,50,55,60], "title": "bill_length_mm"}},
  "y": {"field": "bill_depth_mm", "type": "quantitative", "scale": {"domain": [12.68, 21.92], "nice": false, "zero": false}, "axis": {"values": [14,16,18,20], "labels": false, "title": null}}
 },
 "layer": [
  {"data": {"name": "pts"}, "transform": [{"filter": {"field": "species", "equal": "Gentoo"}}],
   "mark": {"type": "point", "filled": true, "opacity": 1, "size": 46, "stroke": "white", "strokeWidth": 0.5},
   "encoding": {
    "color": {"field": "sex", "type": "nominal", "scale": {"domain": ["Male","Female"], "range": ["#a6cee3","#1f78b4"]}, "legend": {"title": "sex"}},
    "shape": {"field": "sex", "type": "nominal", "scale": {"domain": ["Male","Female"], "range": ["circle","M-0.5,-1L0,-0.5L0.5,-1L1,-0.5L0.5,0L1,0.5L0.5,1L0,0.5L-0.5,1L-1,0.5L-0.5,0L-1,-0.5Z"]}, "legend": {"title": "sex"}}
   }},
  {"data": {"name": "hull"}, "transform": [{"filter": "datum.species === 'Gentoo' && datum.sex === 'Male'"}],
   "mark": {"type": "line", "interpolate": "linear-closed", "stroke": "#a6cee3", "fill": "#a6cee3", "fillOpacity": 0.2, "strokeWidth": 1.3},
   "encoding": {"order": {"field": "i", "type": "quantitative"}}},
  {"data": {"name": "hull"}, "transform": [{"filter": "datum.species === 'Gentoo' && datum.sex === 'Female'"}],
   "mark": {"type": "line", "interpolate": "linear-closed", "stroke": "#1f78b4", "fill": "#1f78b4", "fillOpacity": 0.2, "strokeWidth": 1.3},
   "encoding": {"order": {"field": "i", "type": "quantitative"}}}
 ]
}
]
}
